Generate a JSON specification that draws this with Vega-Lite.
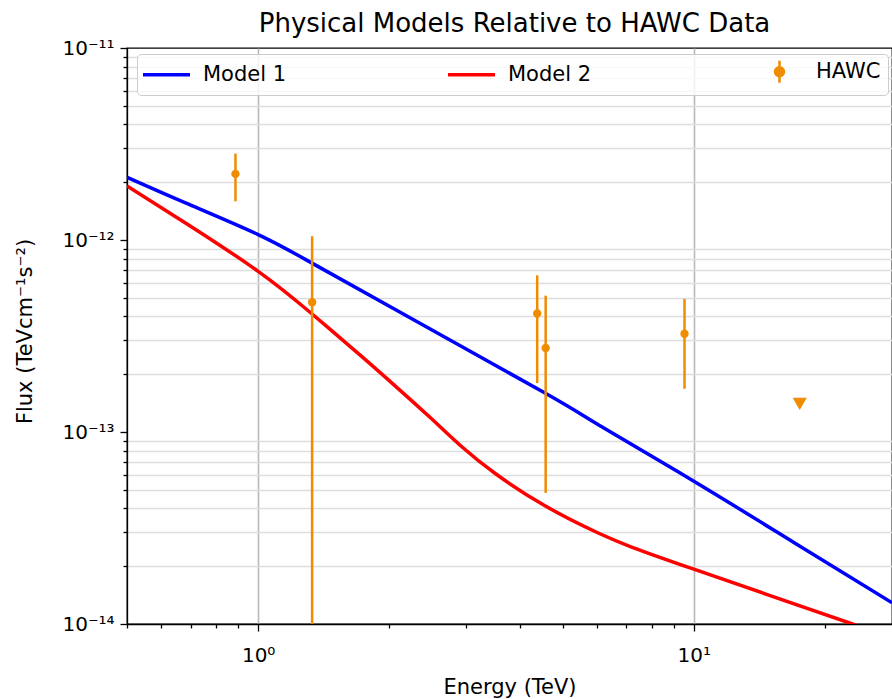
{
  "$schema": "https://vega.github.io/schema/vega-lite/v6.json",
  "width": 765,
  "height": 576,
  "autosize": {"type": "none"},
  "padding": {"left": 127, "top": 48, "right": 0, "bottom": 75},
  "background": "white",
  "title": {"text": "Physical Models Relative to HAWC Data", "font": "DejaVu Sans", "fontSize": 26, "fontWeight": "normal", "color": "#000000", "anchor": "middle", "offset": 1, "dx": 5},
  "config": {"view": {"stroke": "#000000", "strokeWidth": 1.3}, "font": "DejaVu Sans"},
  "datasets": {
    "models": [
      {"series": "Model 1", "E": 0.5, "F": 2.12e-12},
      {"series": "Model 1", "E": 0.681, "F": 1.56e-12},
      {"series": "Model 1", "E": 1.0, "F": 1.067e-12},
      {"series": "Model 1", "E": 1.326, "F": 7.6e-13},
      {"series": "Model 1", "E": 2.103, "F": 4.24e-13},
      {"series": "Model 1", "E": 4.543, "F": 1.6e-13},
      {"series": "Model 1", "E": 6.05, "F": 1.087e-13},
      {"series": "Model 1", "E": 10.0, "F": 5.54e-14},
      {"series": "Model 1", "E": 17.0, "F": 2.65e-14},
      {"series": "Model 1", "E": 28.5, "F": 1.29e-14},
      {"series": "Model 2", "E": 0.5, "F": 1.91e-12},
      {"series": "Model 2", "E": 0.681, "F": 1.227e-12},
      {"series": "Model 2", "E": 1.0, "F": 6.87e-13},
      {"series": "Model 2", "E": 1.326, "F": 4.14e-13},
      {"series": "Model 2", "E": 1.733, "F": 2.46e-13},
      {"series": "Model 2", "E": 2.067, "F": 1.73e-13},
      {"series": "Model 2", "E": 2.465, "F": 1.207e-13},
      {"series": "Model 2", "E": 2.939, "F": 8.35e-14},
      {"series": "Model 2", "E": 3.507, "F": 6.06e-14},
      {"series": "Model 2", "E": 4.543, "F": 4.14e-14},
      {"series": "Model 2", "E": 6.05, "F": 2.97e-14},
      {"series": "Model 2", "E": 7.22, "F": 2.51e-14},
      {"series": "Model 2", "E": 10.0, "F": 1.93e-14},
      {"series": "Model 2", "E": 22.69, "F": 1.015e-14},
      {"series": "Model 2", "E": 28.5, "F": 8.5e-15}
    ],
    "hawc": [
      {"series": "HAWC", "E": 0.887, "F": 2.21e-12, "lo": 1.59e-12, "hi": 2.82e-12},
      {"series": "HAWC", "E": 1.33, "F": 4.74e-13, "lo": 1e-15, "hi": 1.045e-12},
      {"series": "HAWC", "E": 4.37, "F": 4.14e-13, "lo": 1.8e-13, "hi": 6.55e-13},
      {"series": "HAWC", "E": 4.57, "F": 2.74e-13, "lo": 4.82e-14, "hi": 5.13e-13},
      {"series": "HAWC", "E": 9.52, "F": 3.25e-13, "lo": 1.68e-13, "hi": 4.93e-13}
    ],
    "ul": [
      {"series": "HAWC", "E": 17.5, "F": 1.4e-13}
    ]
  },
  "layer": [
    {
      "data": {"name": "models"},
      "mark": {"type": "line", "strokeWidth": 3.5, "clip": true, "interpolate": "natural"},
      "encoding": {
        "x": {
          "field": "E", "type": "quantitative",
          "scale": {"type": "log", "domain": [0.5, 28.5], "nice": false},
          "axis": {
            "title": "Energy (TeV)",
            "values": [0.5, 0.6, 0.7, 0.8, 0.9, 1, 2, 3, 4, 5, 6, 7, 8, 9, 10, 20],
            "labelExpr": "abs(datum.value - 1) < 0.001 ? '10⁰' : (abs(datum.value - 10) < 0.001 ? '10¹' : '')",
            "tickSize": {"condition": {"test": "abs(datum.value - 1) < 0.001 || abs(datum.value - 10) < 0.001", "value": 7}, "value": 4},
            "grid": true,
            "gridColor": "#b8b8b8",
            "gridWidth": 1.6,
            "gridOpacity": {"condition": {"test": "abs(datum.value - 1) < 0.001 || abs(datum.value - 10) < 0.001", "value": 1}, "value": 0},
            "domainColor": "#000000", "domainWidth": 1.3,
            "tickColor": "#000000", "tickWidth": 1.3,
            "labelFont": "DejaVu Sans", "labelFontSize": 20, "labelColor": "#000000", "labelPadding": 14,
            "labelFlush": false, "labelOverlap": false,
            "titleFont": "DejaVu Sans", "titleFontSize": 21, "titleFontWeight": "normal", "titleColor": "#000000", "titlePadding": 11
          }
        },
        "y": {
          "field": "F", "type": "quantitative",
          "scale": {"type": "log", "domain": [1e-14, 1e-11], "nice": false},
          "axis": {
            "title": "Flux (TeVcm⁻¹s⁻²)",
            "values": [1e-14, 2e-14, 3e-14, 4e-14, 5e-14, 6e-14, 7e-14, 8e-14, 9e-14, 1e-13, 2e-13, 3e-13, 4e-13, 5e-13, 6e-13, 7e-13, 8e-13, 9e-13, 1e-12, 2e-12, 3e-12, 4e-12, 5e-12, 6e-12, 7e-12, 8e-12, 9e-12, 1e-11],
            "labelExpr": "abs(log(datum.value)/LN10 + 14) < 0.01 ? '10⁻¹⁴' : (abs(log(datum.value)/LN10 + 13) < 0.01 ? '10⁻¹³' : (abs(log(datum.value)/LN10 + 12) < 0.01 ? '10⁻¹²' : (abs(log(datum.value)/LN10 + 11) < 0.01 ? '10⁻¹¹' : '')))",
            "tickSize": {"condition": {"test": "abs(log(datum.value)/LN10 - round(log(datum.value)/LN10)) < 0.01", "value": 7}, "value": 4},
            "grid": true,
            "gridColor": "#dddddd",
            "gridWidth": 1.5,
            "gridOpacity": {"condition": {"test": "abs(log(datum.value)/LN10 - round(log(datum.value)/LN10)) < 0.01", "value": 0}, "value": 1},
            "domainColor": "#000000", "domainWidth": 1.3,
            "tickColor": "#000000", "tickWidth": 1.3,
            "labelFont": "DejaVu Sans", "labelFontSize": 20, "labelColor": "#000000", "labelPadding": 6,
            "labelFlush": false, "labelOverlap": false,
            "titleFont": "DejaVu Sans", "titleFontSize": 21, "titleFontWeight": "normal", "titleColor": "#000000", "titlePadding": 26,
            "titleY": 283
          }
        },
        "color": {
          "field": "series", "type": "nominal",
          "scale": {"domain": ["Model 1", "Model 2", "HAWC"], "range": ["#0000ff", "#ff0000", "#f08c00"]},
          "legend": {
            "orient": "none", "legendX": 10, "legendY": 6,
            "direction": "horizontal", "columns": 3, "columnPadding": 154,
            "title": null,
            "labelFont": "DejaVu Sans", "labelFontSize": 21, "labelColor": "#000000", "labelOffset": 26,
            "symbolSize": 2209, "symbolStrokeWidth": 3.5, "symbolType": "stroke", "symbolOffset": 12,
            "padding": 7, "strokeColor": "#cccccc", "fillColor": "rgba(255,255,255,0.8)", "cornerRadius": 4,
            "encode": {
              "symbols": {
                "update": {
                  "shape": {"signal": "datum.value === 'HAWC' ? 'M-1.21,0M1,0M0,-0.47L0,0.47M-0.19,0A0.19,0.19,0,1,1,0.19,0A0.19,0.19,0,1,1,-0.19,0Z' : 'stroke'"},
                  "stroke": {"signal": "scale('color', datum.value)"},
                  "fill": {"signal": "datum.value === 'HAWC' ? scale('color', datum.value) : 'transparent'"},
                  "strokeWidth": {"signal": "datum.value === 'HAWC' ? 2.5 : 3.5"},
                  "opacity": {"value": 1},
                  "fillOpacity": {"value": 1},
                  "strokeOpacity": {"value": 1}
                }
              }
            }
          }
        }
      }
    },
    {
      "data": {"name": "hawc"},
      "mark": {"type": "rule", "strokeWidth": 2.5, "clip": true},
      "encoding": {
        "x": {"field": "E", "type": "quantitative", "title": "Energy (TeV)"},
        "y": {"field": "lo", "type": "quantitative", "title": "Flux (TeVcm⁻¹s⁻²)"},
        "y2": {"field": "hi"},
        "color": {"field": "series", "type": "nominal"}
      }
    },
    {
      "data": {"name": "hawc"},
      "mark": {"type": "point", "filled": true, "size": 70, "opacity": 1, "clip": true},
      "encoding": {
        "x": {"field": "E", "type": "quantitative", "title": "Energy (TeV)"},
        "y": {"field": "F", "type": "quantitative", "title": "Flux (TeVcm⁻¹s⁻²)"},
        "color": {"field": "series", "type": "nominal"}
      }
    },
    {
      "data": {"name": "ul"},
      "mark": {"type": "point", "shape": "triangle-down", "filled": true, "size": 200, "opacity": 1, "clip": true},
      "encoding": {
        "x": {"field": "E", "type": "quantitative", "title": "Energy (TeV)"},
        "y": {"field": "F", "type": "quantitative", "title": "Flux (TeVcm⁻¹s⁻²)"},
        "color": {"field": "series", "type": "nominal"}
      }
    }
  ]
}
